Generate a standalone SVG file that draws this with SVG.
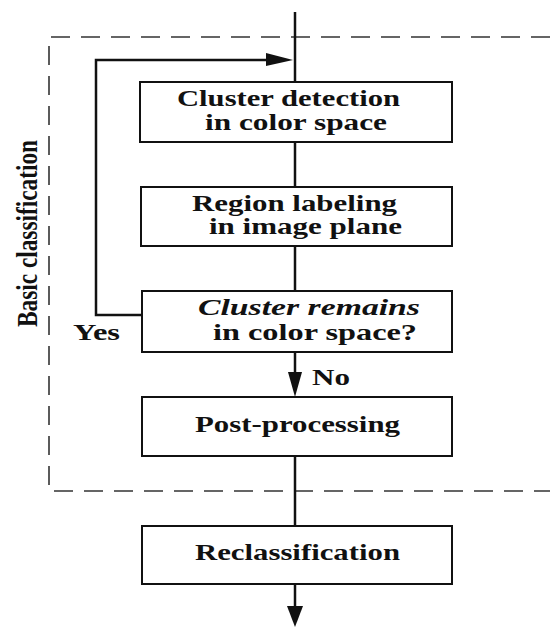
<svg xmlns="http://www.w3.org/2000/svg" width="550" height="627" viewBox="0 0 550 627">
<defs>
<style>
.box{fill:#fff;stroke:#111;stroke-width:2}
.ln{fill:none;stroke:#111;stroke-width:2.5}
.dash{fill:none;stroke:#333;stroke-width:1.6;stroke-dasharray:19 11}
.t{font-family:"Liberation Serif","Times New Roman",serif;font-weight:bold;font-size:23px;fill:#111}
.ah{fill:#111}
</style>
</defs>
<rect width="550" height="627" fill="#fff"/>
<path class="dash" d="M550,37 H49 V491 H550"/>
<text class="t" transform="translate(37,327) rotate(-90)" textLength="187" lengthAdjust="spacingAndGlyphs" style="font-size:29px">Basic classification</text>
<g id="connectors">
<path class="ln" d="M295,12 V82"/>
<path class="ln" d="M295,142 V187"/>
<path class="ln" d="M295,246 V291"/>
<path class="ln" d="M295,352 V380"/>
<polygon class="ah" points="288,372 302,372 295,397"/>
<path class="ln" d="M295,456 V526"/>
<path class="ln" d="M295,584 V610"/>
<polygon class="ah" points="287,606 303,606 295,627"/>
<path class="ln" d="M142,315 H96 V60 H270"/>
<polygon class="ah" points="266,53 293,60 266,66"/>
<text class="t" x="73" y="340" textLength="47" lengthAdjust="spacingAndGlyphs">Yes</text>
<text class="t" x="312" y="385" textLength="38" lengthAdjust="spacingAndGlyphs">No</text>
</g>
<g id="n1">
<rect class="box" x="140" y="82" width="312" height="60"/>
<text class="t" x="177" y="106" textLength="223" lengthAdjust="spacingAndGlyphs">Cluster detection</text>
<text class="t" x="205" y="129.5" textLength="182" lengthAdjust="spacingAndGlyphs">in color space</text>
</g>
<g id="n2">
<rect class="box" x="141" y="187" width="311" height="59"/>
<text class="t" x="192" y="211" textLength="205" lengthAdjust="spacingAndGlyphs">Region labeling</text>
<text class="t" x="209" y="234" textLength="193" lengthAdjust="spacingAndGlyphs">in image plane</text>
</g>
<g id="n3">
<rect class="box" x="142" y="291" width="310" height="61"/>
<text class="t" x="198" y="315" textLength="222" lengthAdjust="spacingAndGlyphs" style="font-style:italic">Cluster remains</text>
<text class="t" x="213" y="340" textLength="204" lengthAdjust="spacingAndGlyphs">in color space?</text>
</g>
<g id="n4">
<rect class="box" x="142" y="397" width="310" height="59"/>
<text class="t" x="195" y="432" textLength="205" lengthAdjust="spacingAndGlyphs">Post-processing</text>
</g>
<g id="n5">
<rect class="box" x="142" y="526" width="310" height="58"/>
<text class="t" x="195" y="560" textLength="205" lengthAdjust="spacingAndGlyphs">Reclassification</text>
</g>
</svg>
